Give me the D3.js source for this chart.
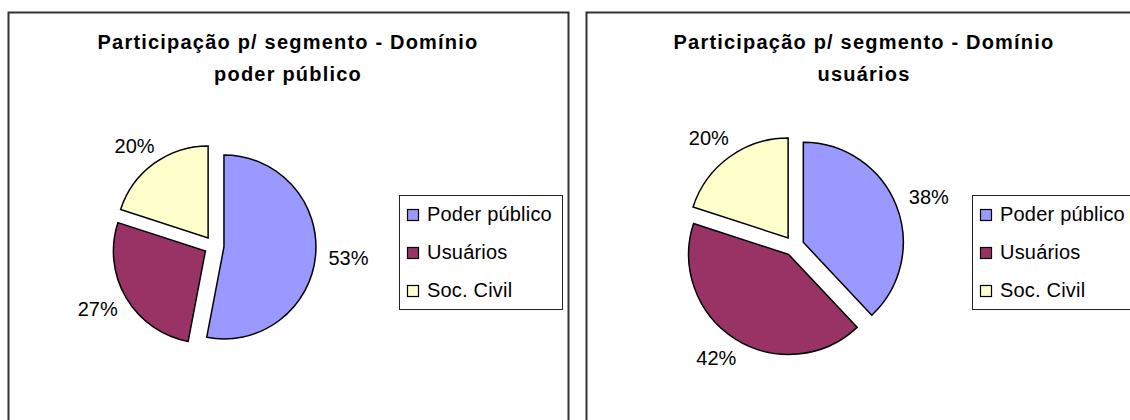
<!DOCTYPE html>
<html>
<head>
<meta charset="utf-8">
<script src="https://cdn.jsdelivr.net/npm/d3@7"></script>
<style>
  body { margin: 0; background: #fff; }
  svg { display: block; font-family: "Liberation Sans", Arial, sans-serif; }
</style>
</head>
<body>
<div id="chart"></div>
<script>
// data
const categories = ["Poder público", "Usuários", "Soc. Civil"];
const sharesPoderPublico = [53, 27, 20];
const sharesUsuarios = [38, 42, 20];
const titleLines1 = ["Participação p/ segmento - Domínio", "poder público"];
const titleLines2 = ["Participação p/ segmento - Domínio", "usuários"];
const colors = ["#9999FF", "#993366", "#FFFFCC"];

const width = 1130,
      height = 420;

const svg = d3.select("#chart")
  .append("svg")
  .attr("width", width)
  .attr("height", height)
  .attr("viewBox", [0, 0, width, height]);

// one panel per chart (layout only)
const panels = [
  { x: 8, values: sharesPoderPublico, title: titleLines1, cx: 214, cy: 246, r: 92, titleX: 288, legendX: 399 },
  { x: 586, values: sharesUsuarios, title: titleLines2, cx: 794, cy: 246, r: 100, titleX: 864, legendX: 972 }
];

const color = d3.scaleOrdinal().domain(categories).range(colors);

panels.forEach(p => {
  const g = svg.append("g");

  // chart area border
  g.append("rect")
    .attr("x", p.x + 0.5)
    .attr("y", 12.5)
    .attr("width", 560)
    .attr("height", 430)
    .attr("fill", "white")
    .attr("stroke", "#333")
    .attr("stroke-width", 2);

  // title
  g.append("text")
    .attr("text-anchor", "middle")
    .attr("font-weight", "bold")
    .attr("font-size", 20)
    .attr("letter-spacing", "1.2px")
    .attr("fill", "#000")
    .selectAll("tspan")
    .data(p.title)
    .join("tspan")
    .attr("x", p.titleX)
    .attr("y", (d, i) => 49 + i * 32)
    .text(d => d);

  const data = categories.map((c, i) => ({ category: c, value: p.values[i] }));
  const arcs = d3.pie().sort(null).value(d => d.value)(data);
  const arc = d3.arc().innerRadius(0).outerRadius(p.r);
  const explode = 10;
  const labelR = p.r * 1.24;

  const mid = d => (d.startAngle + d.endAngle) / 2;
  const dir = d => [Math.sin(mid(d)), -Math.cos(mid(d))];

  const pie = g.append("g")
    .attr("transform", `translate(${p.cx},${p.cy})`);

  pie.selectAll("path")
    .data(arcs)
    .join("path")
    .attr("transform", d => `translate(${dir(d)[0] * explode},${dir(d)[1] * explode})`)
    .attr("fill", d => color(d.data.category))
    .attr("stroke", "black")
    .attr("stroke-width", 1.5)
    .attr("stroke-linejoin", "miter")
    .attr("d", arc);

  // percent labels outside the slices
  pie.selectAll("text")
    .data(arcs)
    .join("text")
    .attr("font-size", 20)
    .attr("text-anchor", "middle")
    .attr("x", d => dir(d)[0] * labelR + dir(d)[0] * 21)
    .attr("y", d => dir(d)[1] * labelR + dir(d)[1] * 9)
    .attr("dy", "0.35em")
    .text(d => `${d.data.value}%`);

  // legend
  const legend = g.append("g")
    .attr("transform", `translate(${p.legendX},195)`);

  legend.append("rect")
    .attr("x", 0.5)
    .attr("y", 0.5)
    .attr("width", 163)
    .attr("height", 114)
    .attr("fill", "white")
    .attr("stroke", "#222")
    .attr("stroke-width", 1);

  const item = legend.selectAll(".item")
    .data(categories)
    .join("g")
    .attr("class", "item")
    .attr("transform", (d, i) => `translate(0,${19 + i * 38})`);

  item.append("rect")
    .attr("x", 8.5)
    .attr("y", -4.5)
    .attr("width", 11)
    .attr("height", 11)
    .attr("fill", d => color(d))
    .attr("stroke", "black")
    .attr("stroke-width", 1.2);

  item.append("text")
    .attr("x", 28)
    .attr("dy", "0.35em")
    .attr("font-size", 20)
    .attr("letter-spacing", "0.2px")
    .attr("fill", "#000")
    .text(d => d);
});
</script>
</body>
</html>
